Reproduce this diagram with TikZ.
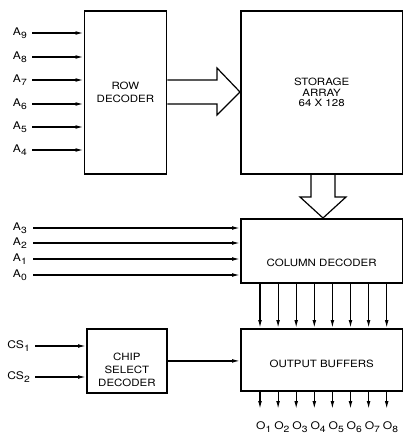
\documentclass[tikz,border=0pt]{standalone}
\usepackage{fontspec}
\setmainfont[FakeStretch=1.15]{TeX Gyre Heros}
\usetikzlibrary{arrows.meta}
\newcommand\sbx[1]{\raisebox{-3pt}{\fontsize{9}{9}\selectfont #1}}
\begin{document}
\begin{tikzpicture}[x=1pt,y=-1pt,
  box/.style={draw, line width=1.8pt, anchor=north west, inner sep=0pt, align=center,
    font=\fontsize{10}{13}\selectfont},
  lbl/.style={inner sep=0pt, font=\fontsize{10.5}{12}\selectfont},
  arr/.style={line width=1.2pt, -{Latex[length=8pt,width=3.8pt]}},
  hollow/.style={line width=1.2pt, line join=miter}]
\useasboundingbox (0,0) rectangle (403,436);

% boxes
\node[box, minimum width=82pt, minimum height=163pt] (row) at (83.5,10) {ROW\\DECODER};
\node[box, minimum width=161.5pt, minimum height=163pt, font=\fontsize{10}{10.5}\selectfont] (mem) at (240,10) {STORAGE\\ARRAY\\64 X 128};
\node[box, minimum width=161.5pt, minimum height=64pt,
  label={[yshift=-12pt, font=\fontsize{10}{13}\selectfont]center:COLUMN DECODER}] (col) at (240,218) {};
\node[box, minimum width=161.5pt, minimum height=62pt,
  label={[yshift=-4pt, font=\fontsize{10}{13}\selectfont]center:OUTPUT BUFFERS}] (out) at (240,328) {};
\node[box, minimum width=80pt, minimum height=64pt,
  label={[yshift=-9pt, align=center, font=\fontsize{10}{13}\selectfont]center:CHIP\\SELECT\\DECODER}] (cs) at (86,328) {};

% row address inputs
\foreach \n/\y in {9/33,8/57,7/80,6/104,5/127,4/150} {
  \node[lbl, anchor=east] (a\n) at (27,\y) {A\sbx{\n}};
  \draw[arr] ([xshift=5pt]a\n.east) -- (row.west |- a\n.east);
}
% column address inputs
\foreach \n/\y in {3/228,2/243,1/259,0/275} {
  \node[lbl, anchor=east] (a\n) at (27,\y) {A\sbx{\n}};
  \draw[arr] ([xshift=6pt]a\n.east) -- (col.west |- a\n.east);
}
% chip select inputs
\node[lbl, anchor=east] (cs1) at (30,346) {CS\sbx{1}};
\node[lbl, anchor=east] (cs2) at (30,377) {CS\sbx{2}};
\draw[arr] ([xshift=5pt]cs1.east) -- (cs.west |- cs1.east);
\draw[arr] ([xshift=5pt]cs2.east) -- (cs.west |- cs2.east);
\draw[arr] (cs.east) -- (out.west |- cs.east);

% hollow arrows
\draw[hollow] (row.east |- 0,80) -- (217,80) -- (217,68) -- (mem.west |- 0,92) -- (217,115) -- (217,104) -- (row.east |- 0,104);
\draw[hollow] (311,0 |- mem.south) -- (311,197) -- (300,197) -- (323,0 |- col.north) -- (346,197) -- (335,197) -- (335,0 |- mem.south);

% data lines
\foreach \i in {1,...,8} {
  \coordinate (c\i) at (260+18.1*\i-18.1,409);
  \draw[arr] (col.south -| c\i) -- (out.north -| c\i);
  \draw[arr] (out.south -| c\i) -- (c\i);
  \node[lbl, anchor=north west] (o\i) at ([xshift=-4pt, yshift=-12pt]c\i) {O\sbx{\i}};
}
\end{tikzpicture}
\end{document}
